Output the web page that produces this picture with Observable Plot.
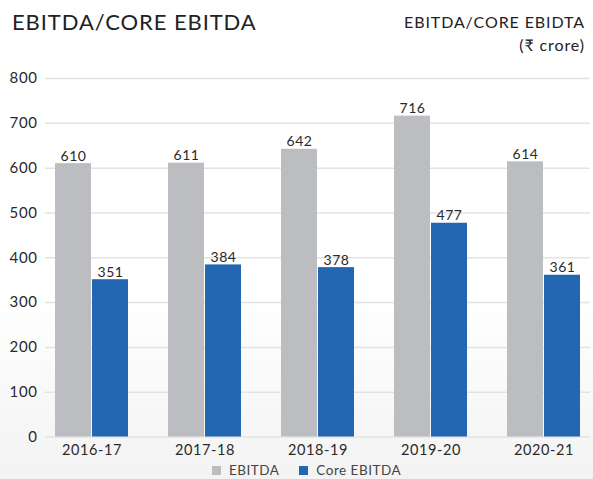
<!DOCTYPE html>
<html>
<head>
<meta charset="utf-8">
<script src="https://cdn.jsdelivr.net/npm/d3@7"></script>
<script src="https://cdn.jsdelivr.net/npm/@observablehq/plot@0.6"></script>
<style>
  html, body { margin: 0; padding: 0; }
  body { width: 593px; height: 479px; overflow: hidden; font-family: Lato, "Noto Sans", sans-serif; }
  #wrap { position: relative; width: 593px; height: 479px;
    background: linear-gradient(to bottom, #ffffff 0%, #ffffff 62%, #f3f3f3 100%); }
  #title { position: absolute; left: 12px; top: 8px; font-size: 22px; color: #222; letter-spacing: 0.9px; white-space: nowrap; }
  #unit { position: absolute; right: 8px; top: 10px; font-size: 16px; color: #222; text-align: right; line-height: 23px; letter-spacing: 0.9px; }
  #chart { position: absolute; left: 0; top: 0; }
  #legend { position: absolute; top: 463px; left: 0; width: 593px; box-sizing: border-box; display: flex; justify-content: center; gap: 20px; font-size: 13.5px; line-height: 15px; color: #444; letter-spacing: 0.5px; padding-left: 20px; }
  #legend span.sw { display: inline-block; width: 9px; height: 9px; margin-right: 8px; vertical-align: 0px; }
</style>
</head>
<body>
<div id="wrap">
  <div id="chart"></div>
  <div id="title">EBITDA/CORE EBITDA</div>
  <div id="unit">EBITDA/CORE EBIDTA<br>(₹ crore)</div>
  <div id="legend"></div>
</div>
<script>
const years = ["2016-17", "2017-18", "2018-19", "2019-20", "2020-21"];
const ebitda = [610, 611, 642, 716, 614];
const coreEbitda = [351, 384, 378, 477, 361];
const seriesNames = ["EBITDA", "Core EBITDA"];
const seriesColors = ["#bcbdc1", "#2366b2"];
const yTicks = [0, 100, 200, 300, 400, 500, 600, 700, 800];

const data = years.flatMap((yr, i) => [
  {year: yr, series: seriesNames[0], value: ebitda[i]},
  {year: yr, series: seriesNames[1], value: coreEbitda[i]}
]);
const dE = data.filter(d => d.series === seriesNames[0]);
const dC = data.filter(d => d.series === seriesNames[1]);

const chart = Plot.plot({
  width: 593,
  height: 479,
  marginTop: 78,
  marginBottom: 42.5,
  marginLeft: 45,
  marginRight: 3,
  style: {fontFamily: "Lato, 'Noto Sans', sans-serif", background: "transparent", color: "#333", letterSpacing: "0.6px"},
  x: {domain: years, paddingInner: 0.354, paddingOuter: 0.0885, label: null},
  y: {domain: [0, 800], label: null},
  color: {domain: seriesNames, range: seriesColors},
  marks: [
    Plot.gridY(yTicks, {stroke: "#e3e3e3", strokeOpacity: 1, strokeWidth: 1.5}),
    Plot.axisY(yTicks, {tickSize: 0, tickPadding: 8, fontSize: 15, fill: "#2a2a2a", label: null}),
    Plot.axisX({tickSize: 0, tickPadding: 7.5, fontSize: 14.5, fill: "#2a2a2a", label: null}),
    Plot.barY(dE, {x: "year", y: "value", fill: "series", insetRight: 37}),
    Plot.barY(dC, {x: "year", y: "value", fill: "series", insetLeft: 37}),
    Plot.text(dE, {x: "year", y: "value", text: d => String(d.value), dx: -18.5, dy: -3, lineAnchor: "bottom", fontSize: 14, fill: "#2a2a2a"}),
    Plot.text(dC, {x: "year", y: "value", text: d => String(d.value), dx: 18.5, dy: -3, lineAnchor: "bottom", fontSize: 14, fill: "#2a2a2a"})
  ]
});
document.getElementById("chart").appendChild(chart);

const legend = document.getElementById("legend");
seriesNames.forEach((name, i) => {
  const item = document.createElement("div");
  const sw = document.createElement("span");
  sw.className = "sw";
  sw.style.background = seriesColors[i];
  item.appendChild(sw);
  item.appendChild(document.createTextNode(name));
  legend.appendChild(item);
});
</script>
</body>
</html>
